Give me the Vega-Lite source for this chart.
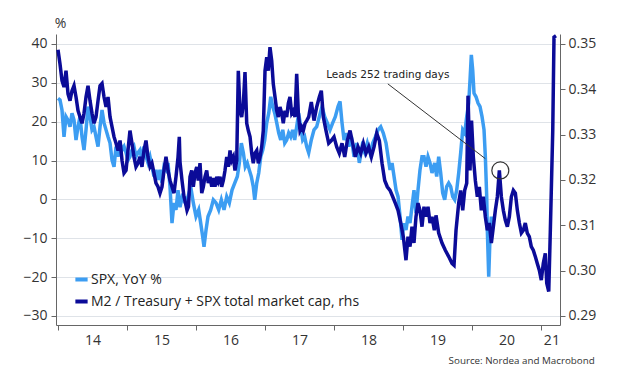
{
"$schema":"https://vega.github.io/schema/vega-lite/v6.json",
"width":504,"height":291,
"autosize":{"type":"none"},
"padding":{"left":56,"top":34,"right":62,"bottom":55},
"background":"white",
"config":{"view":{"stroke":null},"font":"Open Sans",
 "axis":{"labelFont":"Open Sans","labelFontSize":14,"labelColor":"#333","domainColor":"#666","tickColor":"#666","titleFont":"Open Sans"}},
"title":{"text":"Source: Nordea and Macrobond","orient":"bottom","anchor":"end","font":"Open Sans","fontSize":9.8,"fontWeight":"normal","color":"#333","offset":9,"dx":-1,"limit":0},
"datasets":{
"spx":[
{"t":2014.000,"v":26.0},{"t":2014.029,"v":25.6},{"t":2014.058,"v":23.0},{"t":2014.087,"v":16.1},{"t":2014.116,"v":21.3},{"t":2014.145,"v":20.4},{"t":2014.174,"v":18.7},{"t":2014.203,"v":22.2},{"t":2014.232,"v":20.4},{"t":2014.261,"v":15.3},{"t":2014.290,"v":18.7},{"t":2014.319,"v":21.3},{"t":2014.348,"v":16.1},{"t":2014.377,"v":12.7},{"t":2014.406,"v":17.9},{"t":2014.435,"v":23.9},{"t":2014.464,"v":21.3},{"t":2014.493,"v":17.9},{"t":2014.522,"v":18.7},{"t":2014.551,"v":16.1},{"t":2014.580,"v":13.6},{"t":2014.609,"v":18.7},{"t":2014.638,"v":23.0},{"t":2014.667,"v":19.7},{"t":2014.696,"v":17.9},{"t":2014.725,"v":16.1},{"t":2014.754,"v":14.5},{"t":2014.783,"v":10.1},{"t":2014.812,"v":8.4},{"t":2014.841,"v":13.6},{"t":2014.870,"v":11.0},{"t":2014.899,"v":14.5},{"t":2014.928,"v":12.7},{"t":2014.957,"v":13.6},{"t":2014.986,"v":12.0},
{"t":2015.014,"v":10.1},{"t":2015.043,"v":11.0},{"t":2015.072,"v":12.7},{"t":2015.101,"v":13.6},{"t":2015.130,"v":11.0},{"t":2015.159,"v":12.0},{"t":2015.188,"v":12.7},{"t":2015.217,"v":10.1},{"t":2015.246,"v":13.6},{"t":2015.275,"v":11.0},{"t":2015.304,"v":9.4},{"t":2015.333,"v":11.0},{"t":2015.362,"v":8.4},{"t":2015.391,"v":5.9},{"t":2015.420,"v":7.6},{"t":2015.449,"v":5.0},{"t":2015.478,"v":7.6},{"t":2015.507,"v":4.2},{"t":2015.536,"v":8.4},{"t":2015.565,"v":7.6},{"t":2015.594,"v":9.4},{"t":2015.623,"v":3.3},{"t":2015.652,"v":-6.1},{"t":2015.681,"v":-0.9},{"t":2015.710,"v":-2.7},{"t":2015.739,"v":2.4},{"t":2015.768,"v":-2.0},{"t":2015.797,"v":0.5},{"t":2015.845,"v":-0.9},{"t":2015.884,"v":0.7},{"t":2015.923,"v":3.3},{"t":2015.961,"v":-0.9},
{"t":2016.000,"v":-4.4},{"t":2016.039,"v":-2.7},{"t":2016.068,"v":-6.1},{"t":2016.097,"v":-9.6},{"t":2016.116,"v":-12.2},{"t":2016.145,"v":-7.9},{"t":2016.174,"v":-4.4},{"t":2016.213,"v":-2.7},{"t":2016.251,"v":-0.1},{"t":2016.290,"v":-0.9},{"t":2016.329,"v":-2.7},{"t":2016.367,"v":-0.1},{"t":2016.406,"v":-2.7},{"t":2016.445,"v":0.7},{"t":2016.483,"v":-0.9},{"t":2016.522,"v":2.4},{"t":2016.561,"v":4.2},{"t":2016.599,"v":5.9},{"t":2016.628,"v":9.4},{"t":2016.657,"v":14.5},{"t":2016.686,"v":12.0},{"t":2016.714,"v":8.4},{"t":2016.743,"v":9.4},{"t":2016.772,"v":7.6},{"t":2016.801,"v":5.9},{"t":2016.830,"v":3.3},{"t":2016.851,"v":-0.1},{"t":2016.880,"v":4.2},{"t":2016.909,"v":6.8},{"t":2016.938,"v":11.0},{"t":2016.967,"v":12.7},{"t":2016.996,"v":15.3},
{"t":2017.025,"v":19.7},{"t":2017.054,"v":22.2},{"t":2017.083,"v":26.4},{"t":2017.112,"v":23.9},{"t":2017.141,"v":22.2},{"t":2017.170,"v":19.7},{"t":2017.199,"v":17.1},{"t":2017.228,"v":15.3},{"t":2017.257,"v":17.9},{"t":2017.286,"v":14.5},{"t":2017.314,"v":15.3},{"t":2017.343,"v":17.1},{"t":2017.372,"v":16.1},{"t":2017.401,"v":17.9},{"t":2017.430,"v":15.3},{"t":2017.459,"v":18.7},{"t":2017.488,"v":22.2},{"t":2017.517,"v":18.7},{"t":2017.546,"v":15.3},{"t":2017.575,"v":16.1},{"t":2017.604,"v":13.6},{"t":2017.633,"v":12.0},{"t":2017.671,"v":15.3},{"t":2017.710,"v":17.9},{"t":2017.749,"v":18.7},{"t":2017.787,"v":21.3},{"t":2017.826,"v":23.9},{"t":2017.865,"v":21.3},{"t":2017.903,"v":19.7},{"t":2017.942,"v":17.9},{"t":2017.981,"v":19.7},
{"t":2018.019,"v":21.3},{"t":2018.058,"v":23.9},{"t":2018.087,"v":25.2},{"t":2018.116,"v":19.7},{"t":2018.145,"v":15.3},{"t":2018.174,"v":17.1},{"t":2018.213,"v":13.6},{"t":2018.251,"v":16.1},{"t":2018.290,"v":11.0},{"t":2018.329,"v":14.5},{"t":2018.367,"v":9.4},{"t":2018.406,"v":13.6},{"t":2018.445,"v":12.0},{"t":2018.483,"v":14.5},{"t":2018.522,"v":12.0},{"t":2018.561,"v":14.5},{"t":2018.599,"v":16.1},{"t":2018.638,"v":17.9},{"t":2018.677,"v":18.7},{"t":2018.714,"v":17.1},{"t":2018.754,"v":14.5},{"t":2018.783,"v":11.0},{"t":2018.812,"v":7.6},{"t":2018.841,"v":9.4},{"t":2018.870,"v":5.9},{"t":2018.899,"v":2.4},{"t":2018.928,"v":0.7},{"t":2018.957,"v":-4.4},{"t":2018.986,"v":-10.4},
{"t":2019.014,"v":-6.1},{"t":2019.043,"v":-7.9},{"t":2019.072,"v":-4.4},{"t":2019.101,"v":-6.1},{"t":2019.130,"v":-1.9},{"t":2019.159,"v":2.4},{"t":2019.188,"v":-3.5},{"t":2019.217,"v":2.4},{"t":2019.246,"v":7.6},{"t":2019.275,"v":11.0},{"t":2019.304,"v":11.0},{"t":2019.333,"v":8.4},{"t":2019.362,"v":11.0},{"t":2019.391,"v":9.4},{"t":2019.420,"v":6.8},{"t":2019.459,"v":9.4},{"t":2019.488,"v":5.9},{"t":2019.517,"v":11.0},{"t":2019.546,"v":6.8},{"t":2019.575,"v":1.7},{"t":2019.604,"v":-0.1},{"t":2019.633,"v":3.3},{"t":2019.662,"v":4.2},{"t":2019.691,"v":3.3},{"t":2019.720,"v":0.7},{"t":2019.749,"v":-0.1},{"t":2019.778,"v":2.4},{"t":2019.807,"v":6.8},{"t":2019.836,"v":12.0},{"t":2019.865,"v":17.9},{"t":2019.894,"v":17.1},{"t":2019.923,"v":21.3},{"t":2019.952,"v":24.8},{"t":2019.971,"v":30.7},{"t":2019.990,"v":37.2},
{"t":2020.010,"v":33.3},{"t":2020.029,"v":27.3},{"t":2020.058,"v":26.4},{"t":2020.087,"v":24.8},{"t":2020.116,"v":23.9},{"t":2020.145,"v":21.3},{"t":2020.174,"v":17.9},{"t":2020.193,"v":11.0},{"t":2020.213,"v":0.7},{"t":2020.222,"v":-7.9},{"t":2020.242,"v":-19.9},{"t":2020.261,"v":-9.6},{"t":2020.280,"v":-4.4}
],
"m2":[
{"t":2014.000,"r":0.3487},{"t":2014.029,"r":0.3456},{"t":2014.058,"r":0.3419},{"t":2014.087,"r":0.3405},{"t":2014.116,"r":0.3441},{"t":2014.145,"r":0.3390},{"t":2014.174,"r":0.3375},{"t":2014.203,"r":0.3397},{"t":2014.232,"r":0.3408},{"t":2014.261,"r":0.3383},{"t":2014.290,"r":0.3353},{"t":2014.319,"r":0.3339},{"t":2014.348,"r":0.3325},{"t":2014.377,"r":0.3347},{"t":2014.406,"r":0.3383},{"t":2014.435,"r":0.3408},{"t":2014.464,"r":0.3375},{"t":2014.493,"r":0.3347},{"t":2014.522,"r":0.3325},{"t":2014.551,"r":0.3339},{"t":2014.580,"r":0.3375},{"t":2014.609,"r":0.3408},{"t":2014.638,"r":0.3413},{"t":2014.667,"r":0.3383},{"t":2014.696,"r":0.3361},{"t":2014.725,"r":0.3383},{"t":2014.754,"r":0.3339},{"t":2014.783,"r":0.3317},{"t":2014.812,"r":0.3295},{"t":2014.841,"r":0.3281},{"t":2014.870,"r":0.3265},{"t":2014.899,"r":0.3287},{"t":2014.928,"r":0.3243},{"t":2014.957,"r":0.3215},{"t":2014.986,"r":0.3221},
{"t":2015.014,"r":0.3265},{"t":2015.043,"r":0.3309},{"t":2015.072,"r":0.3281},{"t":2015.101,"r":0.3251},{"t":2015.130,"r":0.3229},{"t":2015.159,"r":0.3237},{"t":2015.188,"r":0.3251},{"t":2015.217,"r":0.3229},{"t":2015.246,"r":0.3265},{"t":2015.275,"r":0.3287},{"t":2015.304,"r":0.3251},{"t":2015.333,"r":0.3229},{"t":2015.362,"r":0.3237},{"t":2015.391,"r":0.3215},{"t":2015.420,"r":0.3193},{"t":2015.449,"r":0.3185},{"t":2015.478,"r":0.3171},{"t":2015.507,"r":0.3185},{"t":2015.536,"r":0.3221},{"t":2015.565,"r":0.3251},{"t":2015.594,"r":0.3221},{"t":2015.623,"r":0.3199},{"t":2015.652,"r":0.3185},{"t":2015.681,"r":0.3171},{"t":2015.710,"r":0.3207},{"t":2015.739,"r":0.3250},{"t":2015.758,"r":0.3295},{"t":2015.768,"r":0.3240},{"t":2015.797,"r":0.3199},{"t":2015.826,"r":0.3163},{"t":2015.848,"r":0.3149},{"t":2015.870,"r":0.3133},{"t":2015.891,"r":0.3141},{"t":2015.913,"r":0.3207},{"t":2015.938,"r":0.3221},{"t":2015.961,"r":0.3185},{"t":2015.986,"r":0.3215},
{"t":2016.010,"r":0.3229},{"t":2016.033,"r":0.3199},{"t":2016.058,"r":0.3237},{"t":2016.083,"r":0.3171},{"t":2016.106,"r":0.3185},{"t":2016.130,"r":0.3207},{"t":2016.155,"r":0.3221},{"t":2016.178,"r":0.3193},{"t":2016.203,"r":0.3207},{"t":2016.228,"r":0.3185},{"t":2016.251,"r":0.3204},{"t":2016.275,"r":0.3185},{"t":2016.300,"r":0.3207},{"t":2016.323,"r":0.3196},{"t":2016.348,"r":0.3207},{"t":2016.372,"r":0.3185},{"t":2016.396,"r":0.3199},{"t":2016.420,"r":0.3221},{"t":2016.445,"r":0.3251},{"t":2016.468,"r":0.3229},{"t":2016.493,"r":0.3265},{"t":2016.517,"r":0.3243},{"t":2016.541,"r":0.3251},{"t":2016.565,"r":0.3221},{"t":2016.590,"r":0.3243},{"t":2016.613,"r":0.3441},{"t":2016.638,"r":0.3353},{"t":2016.662,"r":0.3339},{"t":2016.686,"r":0.3369},{"t":2016.710,"r":0.3438},{"t":2016.735,"r":0.3325},{"t":2016.758,"r":0.3309},{"t":2016.783,"r":0.3295},{"t":2016.807,"r":0.3259},{"t":2016.830,"r":0.3237},{"t":2016.855,"r":0.3259},{"t":2016.880,"r":0.3265},{"t":2016.903,"r":0.3237},{"t":2016.928,"r":0.3251},{"t":2016.952,"r":0.3273},{"t":2016.975,"r":0.3309},
{"t":2017.000,"r":0.3441},{"t":2017.025,"r":0.3471},{"t":2017.048,"r":0.3441},{"t":2017.072,"r":0.3493},{"t":2017.097,"r":0.3463},{"t":2017.120,"r":0.3412},{"t":2017.145,"r":0.3383},{"t":2017.170,"r":0.3353},{"t":2017.193,"r":0.3339},{"t":2017.217,"r":0.3361},{"t":2017.242,"r":0.3347},{"t":2017.265,"r":0.3325},{"t":2017.290,"r":0.3353},{"t":2017.314,"r":0.3339},{"t":2017.338,"r":0.3369},{"t":2017.362,"r":0.3383},{"t":2017.387,"r":0.3347},{"t":2017.410,"r":0.3353},{"t":2017.435,"r":0.3339},{"t":2017.459,"r":0.3434},{"t":2017.483,"r":0.3347},{"t":2017.507,"r":0.3309},{"t":2017.532,"r":0.3317},{"t":2017.555,"r":0.3309},{"t":2017.580,"r":0.3325},{"t":2017.604,"r":0.3331},{"t":2017.633,"r":0.3339},{"t":2017.671,"r":0.3372},{"t":2017.710,"r":0.3331},{"t":2017.749,"r":0.3361},{"t":2017.787,"r":0.3383},{"t":2017.816,"r":0.3397},{"t":2017.845,"r":0.3339},{"t":2017.884,"r":0.3309},{"t":2017.923,"r":0.3281},{"t":2017.961,"r":0.3287},
{"t":2018.000,"r":0.3295},{"t":2018.039,"r":0.3273},{"t":2018.077,"r":0.3259},{"t":2018.116,"r":0.3281},{"t":2018.155,"r":0.3251},{"t":2018.193,"r":0.3287},{"t":2018.232,"r":0.3309},{"t":2018.271,"r":0.3281},{"t":2018.309,"r":0.3251},{"t":2018.348,"r":0.3273},{"t":2018.387,"r":0.3259},{"t":2018.425,"r":0.3281},{"t":2018.464,"r":0.3259},{"t":2018.503,"r":0.3273},{"t":2018.541,"r":0.3251},{"t":2018.580,"r":0.3273},{"t":2018.619,"r":0.3303},{"t":2018.657,"r":0.3287},{"t":2018.696,"r":0.3237},{"t":2018.735,"r":0.3199},{"t":2018.772,"r":0.3185},{"t":2018.812,"r":0.3177},{"t":2018.851,"r":0.3163},{"t":2018.888,"r":0.3149},{"t":2018.928,"r":0.3133},{"t":2018.967,"r":0.3105},
{"t":2019.004,"r":0.3075},{"t":2019.043,"r":0.3023},{"t":2019.072,"r":0.3075},{"t":2019.101,"r":0.3053},{"t":2019.130,"r":0.3097},{"t":2019.159,"r":0.3061},{"t":2019.188,"r":0.3119},{"t":2019.217,"r":0.3149},{"t":2019.246,"r":0.3133},{"t":2019.275,"r":0.3097},{"t":2019.304,"r":0.3141},{"t":2019.333,"r":0.3119},{"t":2019.362,"r":0.3141},{"t":2019.391,"r":0.3105},{"t":2019.420,"r":0.3119},{"t":2019.454,"r":0.3089},{"t":2019.478,"r":0.3122},{"t":2019.517,"r":0.3083},{"t":2019.565,"r":0.3061},{"t":2019.613,"r":0.3045},{"t":2019.662,"r":0.3031},{"t":2019.710,"r":0.3016},{"t":2019.739,"r":0.3012},{"t":2019.768,"r":0.3089},{"t":2019.807,"r":0.3149},{"t":2019.836,"r":0.3177},{"t":2019.865,"r":0.3133},{"t":2019.894,"r":0.3177},{"t":2019.923,"r":0.3193},{"t":2019.942,"r":0.3386},{"t":2019.971,"r":0.3221},{"t":2019.993,"r":0.3331},
{"t":2020.019,"r":0.3251},{"t":2020.048,"r":0.3199},{"t":2020.077,"r":0.3163},{"t":2020.106,"r":0.3185},{"t":2020.135,"r":0.3133},{"t":2020.164,"r":0.3163},{"t":2020.193,"r":0.3119},{"t":2020.222,"r":0.3089},{"t":2020.251,"r":0.3105},{"t":2020.280,"r":0.3061},{"t":2020.309,"r":0.3097},{"t":2020.338,"r":0.3133},{"t":2020.367,"r":0.3163},{"t":2020.396,"r":0.3221},{"t":2020.425,"r":0.3163},{"t":2020.454,"r":0.3133},{"t":2020.483,"r":0.3111},{"t":2020.512,"r":0.3097},{"t":2020.541,"r":0.3119},{"t":2020.570,"r":0.3163},{"t":2020.599,"r":0.3177},{"t":2020.628,"r":0.3171},{"t":2020.657,"r":0.3133},{"t":2020.686,"r":0.3105},{"t":2020.715,"r":0.3083},{"t":2020.744,"r":0.3089},{"t":2020.772,"r":0.3105},{"t":2020.801,"r":0.3083},{"t":2020.830,"r":0.3075},{"t":2020.859,"r":0.3053},{"t":2020.888,"r":0.3045},{"t":2020.917,"r":0.3031},{"t":2020.946,"r":0.3016},{"t":2020.975,"r":0.3001},
{"t":2021.004,"r":0.2979},{"t":2021.033,"r":0.3016},{"t":2021.062,"r":0.3038},{"t":2021.083,"r":0.2972},{"t":2021.112,"r":0.2954},{"t":2021.135,"r":0.3089},{"t":2021.149,"r":0.3177},{"t":2021.170,"r":0.3309},{"t":2021.188,"r":0.3515},{"t":2021.217,"r":0.3518}
]
},
"layer":[
 {"data":{"name":"spx"},
  "mark":{"type":"line","strokeWidth":3.5,"clip":true},
  "encoding":{
   "x":{"field":"t","type":"quantitative","scale":{"domain":[2013.971,2021.275],"nice":false,"zero":false},
        "axis":{"values":[2014,2015,2016,2017,2018,2019,2020,2021],"labels":false,"ticks":true,"tickSize":5,"grid":false,"domain":true,"title":null,"orient":"bottom"}},
   "y":{"field":"v","type":"quantitative","scale":{"domain":[-32.32,42.57],"nice":false,"zero":false},
        "axis":{"values":[-30,-20,-10,0,10,20,30,40],"grid":true,"gridColor":"#dfe3e8","gridWidth":1,"tickSize":5,"labelPadding":4,"title":"%","titleAngle":0,"titleX":4,"titleY":-11,"titleAlign":"center","titleBaseline":"middle","titleFontSize":14,"titleFontWeight":"normal","titleColor":"#333"}},
   "color":{"datum":"SPX, YoY %","type":"nominal",
     "scale":{"domain":["SPX, YoY %","M2 / Treasury + SPX total market cap, rhs"],"range":["#3c9df2","#0b0b98"]},
     "legend":{"title":null,"orient":"none","legendX":17,"legendY":237,"symbolType":"stroke","symbolStrokeWidth":4,"symbolSize":150,"labelFont":"Open Sans","labelFontSize":14,"labelColor":"#222","labelOffset":1,"labelLimit":0,"rowPadding":5,"padding":0}}
  }},
 {"layer":[
  {"data":{"name":"m2"},
   "mark":{"type":"line","strokeWidth":3.5,"clip":true},
   "encoding":{
    "x":{"field":"t","type":"quantitative",
         "axis":{"values":[2014.5,2015.5,2016.5,2017.5,2018.5,2019.5,2020.5,2021.15],"labelExpr":"floor(datum.value) - 2000","ticks":false,"tickSize":0,"domain":false,"grid":false,"labelPadding":8,"title":null,"orient":"bottom"}},
    "y":{"field":"r","type":"quantitative","scale":{"domain":[0.28801,0.3522],"nice":false,"zero":false},
         "axis":{"orient":"right","values":[0.29,0.30,0.31,0.32,0.33,0.34,0.35],"format":".2f","grid":false,"tickSize":5,"labelPadding":3,"title":null}},
    "color":{"datum":"M2 / Treasury + SPX total market cap, rhs","type":"nominal"}
   }},
  {"data":{"values":[{"t":2018.78,"r":0.3412,"t2":2020.193,"r2":0.3247}]},
   "mark":{"type":"rule","color":"#333","strokeWidth":1},
   "encoding":{"x":{"field":"t","type":"quantitative"},"y":{"field":"r","type":"quantitative"},"x2":{"field":"t2"},"y2":{"field":"r2"}}},
  {"data":{"values":[{"t":2018.78,"r":0.3431,"label":"Leads 252 trading days"}]},
   "mark":{"type":"text","font":"DejaVu Sans","fontSize":10.5,"color":"#222","align":"center","baseline":"middle"},
   "encoding":{"x":{"field":"t","type":"quantitative"},"y":{"field":"r","type":"quantitative"},"text":{"field":"label"}}},
  {"data":{"values":[{"t":2020.41,"r":0.3221}]},
   "mark":{"type":"point","shape":"circle","filled":false,"color":"#333","strokeWidth":1.2,"size":289,"opacity":1},
   "encoding":{"x":{"field":"t","type":"quantitative"},"y":{"field":"r","type":"quantitative"}}}
 ]}
],
"resolve":{"scale":{"y":"independent"},"axis":{"x":"independent"}}
}
